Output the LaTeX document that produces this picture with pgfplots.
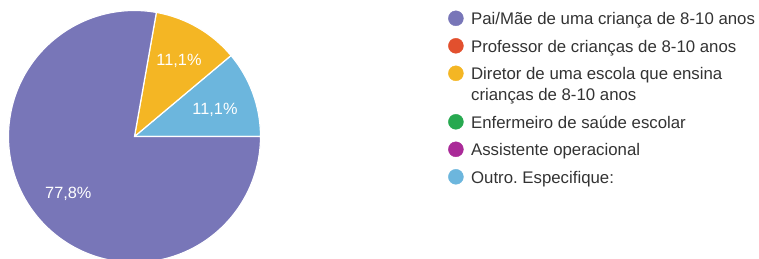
\documentclass[border=0pt]{standalone}
\usepackage{pgfplots}
\pgfplotsset{compat=1.18}
\usepackage{fontspec}
\setmainfont{Liberation Sans}
\frenchspacing
\definecolor{cPurple}{HTML}{7876B8}
\definecolor{cRed}{HTML}{E2502E}
\definecolor{cYellow}{HTML}{F4B624}
\definecolor{cGreen}{HTML}{27A950}
\definecolor{cMagenta}{HTML}{AA2A98}
\definecolor{cBlue}{HTML}{6CB6DD}
\definecolor{txt}{HTML}{333333}
\newcommand{\entry}[1]{\parbox[t]{290bp}{\fontsize{16.8bp}{21bp}\selectfont\strut #1\strut}}
\begin{document}
\begin{tikzpicture}
\begin{axis}[
  hide axis, scale only axis,
  width=759bp, height=259bp,
  xmin=0, xmax=759, ymin=0, ymax=259,
  clip=true,
  legend style={at={(axis cs:448.2,248.9)}, anchor=north west, draw=none, fill=none,
    inner sep=0pt, outer sep=0pt, column sep=7.5bp, row sep=6.5bp,
    nodes={inner sep=0pt, anchor=base west, text=txt, text depth={}, text height={}},
    cells={anchor=base west}},
  legend image code/.code={\fill[#1] (0bp,6.5bp) circle (7.5bp);},
]
% pie slices: Outro 11.1% (40 deg), Diretor 11.1% (40 deg), Pai/Mae 77.8% (280 deg)
\addplot[forget plot, fill=cBlue, draw=white, line width=1.2bp] coordinates {(134.5,122.5)} -- ++(0:126bp) arc[start angle=0, delta angle=40, radius=126bp] -- cycle;
\addplot[forget plot, fill=cYellow, draw=white, line width=1.2bp] coordinates {(134.5,122.5)} -- ++(40:126bp) arc[start angle=40, delta angle=40, radius=126bp] -- cycle;
\addplot[forget plot, fill=cPurple, draw=white, line width=1.2bp] coordinates {(134.5,122.5)} -- ++(80:126bp) arc[start angle=80, delta angle=280, radius=126bp] -- cycle;

\addlegendimage{cPurple}
\addlegendentry{\entry{Pai/Mãe de uma criança de 8-10 anos}}
\addlegendimage{cRed}
\addlegendentry{\entry{Professor de crianças de 8-10 anos}}
\addlegendimage{cYellow}
\addlegendentry{\entry{Diretor de uma escola que ensina\\crianças de 8-10 anos}}
\addlegendimage{cGreen}
\addlegendentry{\entry{Enfermeiro de saúde escolar}}
\addlegendimage{cMagenta}
\addlegendentry{\entry{Assistente operacional}}
\addlegendimage{cBlue}
\addlegendentry{\entry{Outro. Especifique:}}

\node[text=white, font=\fontsize{16.3bp}{19bp}\selectfont, anchor=base] at (axis cs:179,193) {11,1\%};
\node[text=white, font=\fontsize{16.3bp}{19bp}\selectfont, anchor=base] at (axis cs:215,144) {11,1\%};
\node[text=white, font=\fontsize{16.3bp}{19bp}\selectfont, anchor=base] at (axis cs:68.3,60) {77,8\%};
\end{axis}
\pgfresetboundingbox
\path[use as bounding box] (current axis.south west) rectangle (current axis.north east);
\end{tikzpicture}
\end{document}
